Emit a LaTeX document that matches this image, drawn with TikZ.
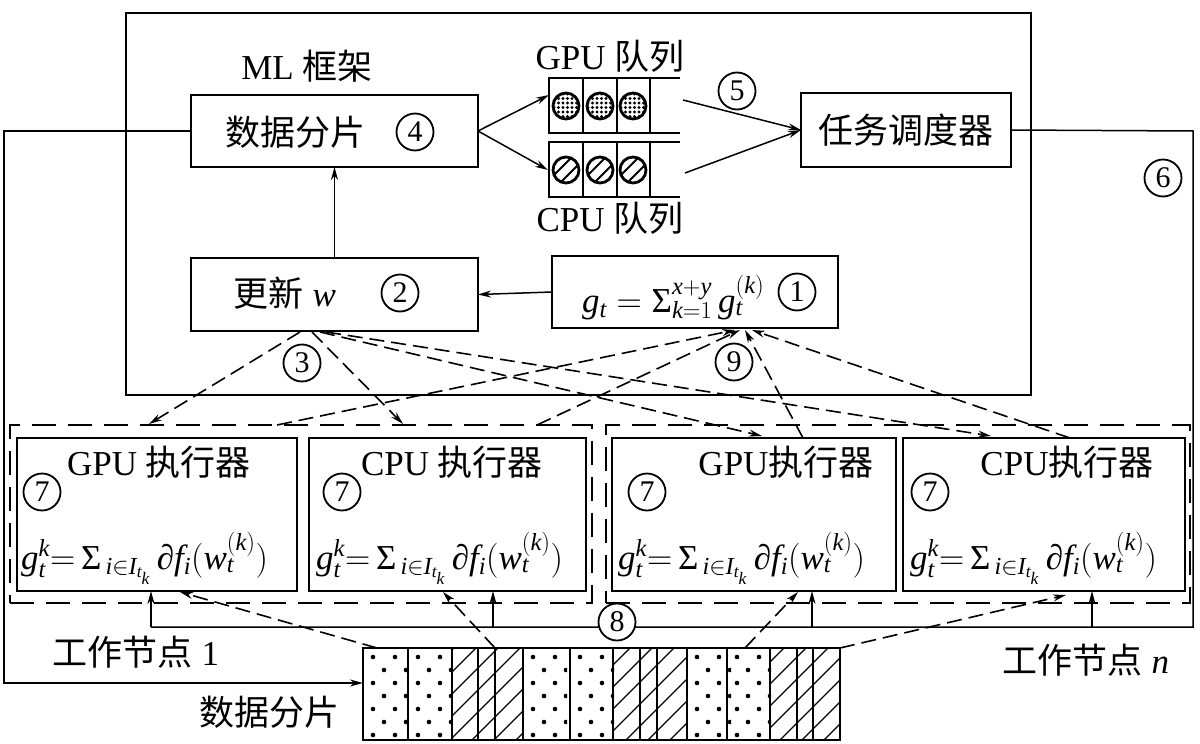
\RequirePackage{fix-cm}
\documentclass[tikz,border=0pt]{standalone}
\usepackage{fontspec}
\setmainfont{Liberation Serif}
\DeclareSymbolFont{letters}{TU}{\rmdefault}{m}{it}
\newfontfamily\cjk{Noto Sans CJK SC}
\usetikzlibrary{arrows.meta,calc}
\newcommand\zh[1]{{\cjk #1}}
\newcommand\tsum{\mathop{\hbox{Σ}}\nolimits}
\newcommand\pd{\hbox{\itshape ∂}}
\newcommand\exfml{$g_t^k{=}\tsum_{\,i\in I_{t_k}}\pd f_i(w_t^{(k)})$}
\begin{document}
\begin{tikzpicture}[x=1pt,y=-1pt,
  box/.style={draw, line width=2.4pt, inner sep=0pt, outer sep=0pt},
  conn/.style={line width=1.5pt},
  arr/.style={line width=1.5pt, -{Stealth[length=13pt,width=7pt]}},
  darr/.style={line width=1.6pt, dash pattern=on 15pt off 7pt, -{Stealth[length=13pt,width=7pt]}},
  grp/.style={draw, line width=2pt, dash pattern=on 24pt off 12pt, inner sep=0pt, outer sep=0pt},
  cn/.style={circle, draw, line width=1.8pt, minimum size=37pt, inner sep=0pt, fill=white, font=\fontsize{30}{30}\selectfont},
  lbl/.style={inner sep=0pt, font=\fontsize{35}{40}\selectfont},
  fml/.style={inner sep=0pt, anchor=base west, font=\fontsize{35}{40}\selectfont},
  qline/.style={line width=2pt},
]
\useasboundingbox (0,0) rectangle (1200,744);
% ML framework
\node[box, minimum width=905pt, minimum height=382pt] (ml) at (578.5,204) {};
\node[lbl] (mltxt) at (307,66) {ML \zh{框架}};
\node[box, minimum width=287pt, minimum height=72pt] (shard) at (334.5,131) {};
\node[lbl] (shardtxt) at (295,132) {\zh{数据分片}};
\node[cn] (c4) at (415,132) {4};
\node[box, minimum width=210pt, minimum height=74pt] (sched) at (906,130) {};
\node[lbl] (schedtxt) at (906,130) {\zh{任务调度器}};
\node[box, minimum width=287pt, minimum height=73pt] (upd) at (334.5,294.5) {};
\node[lbl] (updtxt) at (285,293) {\zh{更新} $w$};
\node[cn] (c2) at (400,293) {2};
\node[box, minimum width=286pt, minimum height=72pt] (gsum) at (695,292) {};
\node[fml] (gsumtxt) at (582,312) {$g_t = \tsum_{k=1}^{x+y} g_t^{(k)}$};
\node[cn] (c1) at (797,292) {1};
% queues
\node[lbl] (gqtxt) at (610,56) {GPU \zh{队列}};
\node[lbl] (cqtxt) at (610,218) {CPU \zh{队列}};
\draw[qline] (680,78) -- (549,78) -- (549,133) -- (680,133);
\draw[qline] (680,142) -- (549,142) -- (549,197) -- (680,197);
\foreach \x in {583,617,650} {\draw[line width=1.5pt] (\x,78) -- (\x,133); \draw[line width=1.5pt] (\x,142) -- (\x,197);}
\foreach \cx in {566,600,633} {
  \begin{scope}
    \clip (\cx,106) circle (13);
    \foreach \i in {-12,-7.5,...,12} \foreach \j in {-12,-7.5,...,12} \fill (\cx+\i,106+\j) circle (1.7);
  \end{scope}
  \draw[line width=2.8pt] (\cx,106) circle (13);
  \begin{scope}
    \clip (\cx,170) circle (13);
    \draw[line width=1.8pt] (\cx-20+3.5,170+20+3.5) -- (\cx+20+3.5,170-20+3.5);
    \draw[line width=1.8pt] (\cx-20-3.5,170+20-3.5) -- (\cx+20-3.5,170-20-3.5);
  \end{scope}
  \draw[line width=2.8pt] (\cx,170) circle (13);
}
\coordinate (gqin) at (549,95);
\coordinate (cqin) at (548,170);
\coordinate (gqout) at (683,100);
\coordinate (cqout) at (685,173);
\draw[arr] (shard.east) -- (gqin);
\draw[arr] (shard.east) -- (cqin);
\draw[arr] (gqout) -- (sched.west);
\draw[arr] (cqout) -- (sched.west);
\node[cn] (c5) at (737,91) {5};
\draw[arr] (upd.north) -- (shard.south);
\draw[arr] (gsum.west) -- (upd.east);
% executor groups
\node[grp, minimum width=582pt, minimum height=178pt] (g1) at (301,514) {};
\node[grp, minimum width=584pt, minimum height=178pt] (g2) at (898,514) {};
\node[box, minimum width=280pt, minimum height=153pt] (e1) at (157,514.5) {};
\node[box, minimum width=277pt, minimum height=153pt] (e2) at (447.5,514.5) {};
\node[box, minimum width=284pt, minimum height=153pt] (e3) at (754,514.5) {};
\node[box, minimum width=282pt, minimum height=153pt] (e4) at (1044,514.5) {};
\node[lbl] (e1t) at (159,462) {GPU \zh{执行器}};
\node[lbl] (e2t) at (452,462) {CPU \zh{执行器}};
\node[lbl] (e3t) at (786,462) {GPU\zh{执行器}};
\node[lbl] (e4t) at (1067,462) {CPU\zh{执行器}};
\node[cn] (c7a) at (42,492) {7};
\node[cn] (c7b) at (342,492) {7};
\node[cn] (c7c) at (647,492) {7};
\node[cn] (c7d) at (930,492) {7};
\node[fml] (f1) at (21,569) {\exfml};
\node[fml] (f2) at (316,569) {\exfml};
\node[fml] (f3) at (618,569) {\exfml};
\node[fml] (f4) at (910,569) {\exfml};
% dashed arrows update -> executors
\coordinate (u1) at (300,332);
\coordinate (u2) at (312,332);
\coordinate (u3) at (320,332);
\coordinate (u4) at (326,332);
\coordinate (t1) at (149,424);
\coordinate (t2) at (403,424);
\coordinate (t3) at (762,436);
\coordinate (t4) at (991,436);
\draw[darr] (u1) -- (t1);
\draw[darr] (u2) -- (t2);
\draw[darr] (u3) -- (t3);
\draw[darr] (u4) -- (t4);
\node[cn, fill=none] (c3) at (302,363) {3};
% dashed arrows executors -> gsum
\coordinate (s1) at (277,425);
\coordinate (s2) at (537,425);
\coordinate (s3) at (803,438);
\coordinate (s4) at (1070,438);
\coordinate (r1) at (735,330);
\coordinate (r2) at (740,330);
\coordinate (r3) at (745,330);
\coordinate (r4) at (752,330);
\draw[darr] (s1) -- (r1);
\draw[darr] (s2) -- (r2);
\draw[darr] (s3) -- (r3);
\draw[darr] (s4) -- (r4);
\node[cn, fill=none] (c9) at (734,362) {9};
% data strip
\node[box, minimum width=477pt, minimum height=92pt] (strip) at (601.5,694) {};
\foreach \a/\b in {452/523,613/687,770/840} {
  \begin{scope}
    \clip (\a,648) rectangle (\b,740);
    \foreach \k in {-100,-78,...,860} \draw[line width=1.2pt] (\k,740) -- (\k+92,648);
  \end{scope}
}
\foreach \a in {363,408,523,570,687,727} {
  \begin{scope}
    \clip (\a+1,649) rectangle (\a+44,739);
    \foreach \j in {0,...,6} \foreach \i in {0,1} \fill ({\a+10+\i*22+mod(\j,2)*11},{657+\j*13}) circle (2.3);
  \end{scope}
}
\foreach \x in {408,452,523,570,613,687,727,770} \draw[line width=1.6pt] (\x,648) -- (\x,740);
\foreach \x in {478,495,640,657,797,813} \draw[line width=1.2pt] (\x,648) -- (\x,740);
\draw[line width=2.4pt] (strip.north west) rectangle (strip.south east);
\node[lbl] (striptxt) at (269,712) {\zh{数据分片}};
\node[lbl] (w1) at (136,652) {\zh{工作节点} 1};
\node[lbl] (wn) at (1086,660) {\zh{工作节点} \textit{n}};
% left feed line
\coordinate (lc1) at (4,131);
\coordinate (lc2) at (4,683);
\draw[arr] (shard.west) -- (lc1) -- (lc2) -- (strip.west |- lc2);
% scheduler bus
\coordinate (rc1) at (1193,131);
\coordinate (rc2) at (1193,627);
\coordinate (b1) at (151,627);
\coordinate (b2) at (493,627);
\coordinate (b3) at (812,627);
\coordinate (b4) at (1092,627);
\draw[conn] (sched.east) -- (rc1) -- (rc2) -- (b1);
\draw[arr] (b1) -- (b1 |- e1.south);
\draw[arr] (b2) -- (b2 |- e2.south);
\draw[arr] (b3) -- (b3 |- e3.south);
\draw[arr] (b4) -- (b4 |- e4.south);
\node[cn] (c6) at (1163,178) {6};
\node[cn] (c8) at (617,622) {8};
% dashed arrows strip -> executors
\coordinate (d1) at (377,648);
\coordinate (d2) at (495,648);
\coordinate (d3) at (745,648);
\coordinate (d4) at (180,592);
\coordinate (d5) at (443,592);
\coordinate (d6) at (798,592);
\coordinate (d7) at (1066,595);
\draw[darr] (d1) -- (d4);
\draw[darr] (d2) -- (d5);
\draw[darr] (d3) -- (d6);
\draw[darr] (strip.north east) -- (d7);
\end{tikzpicture}
\end{document}
